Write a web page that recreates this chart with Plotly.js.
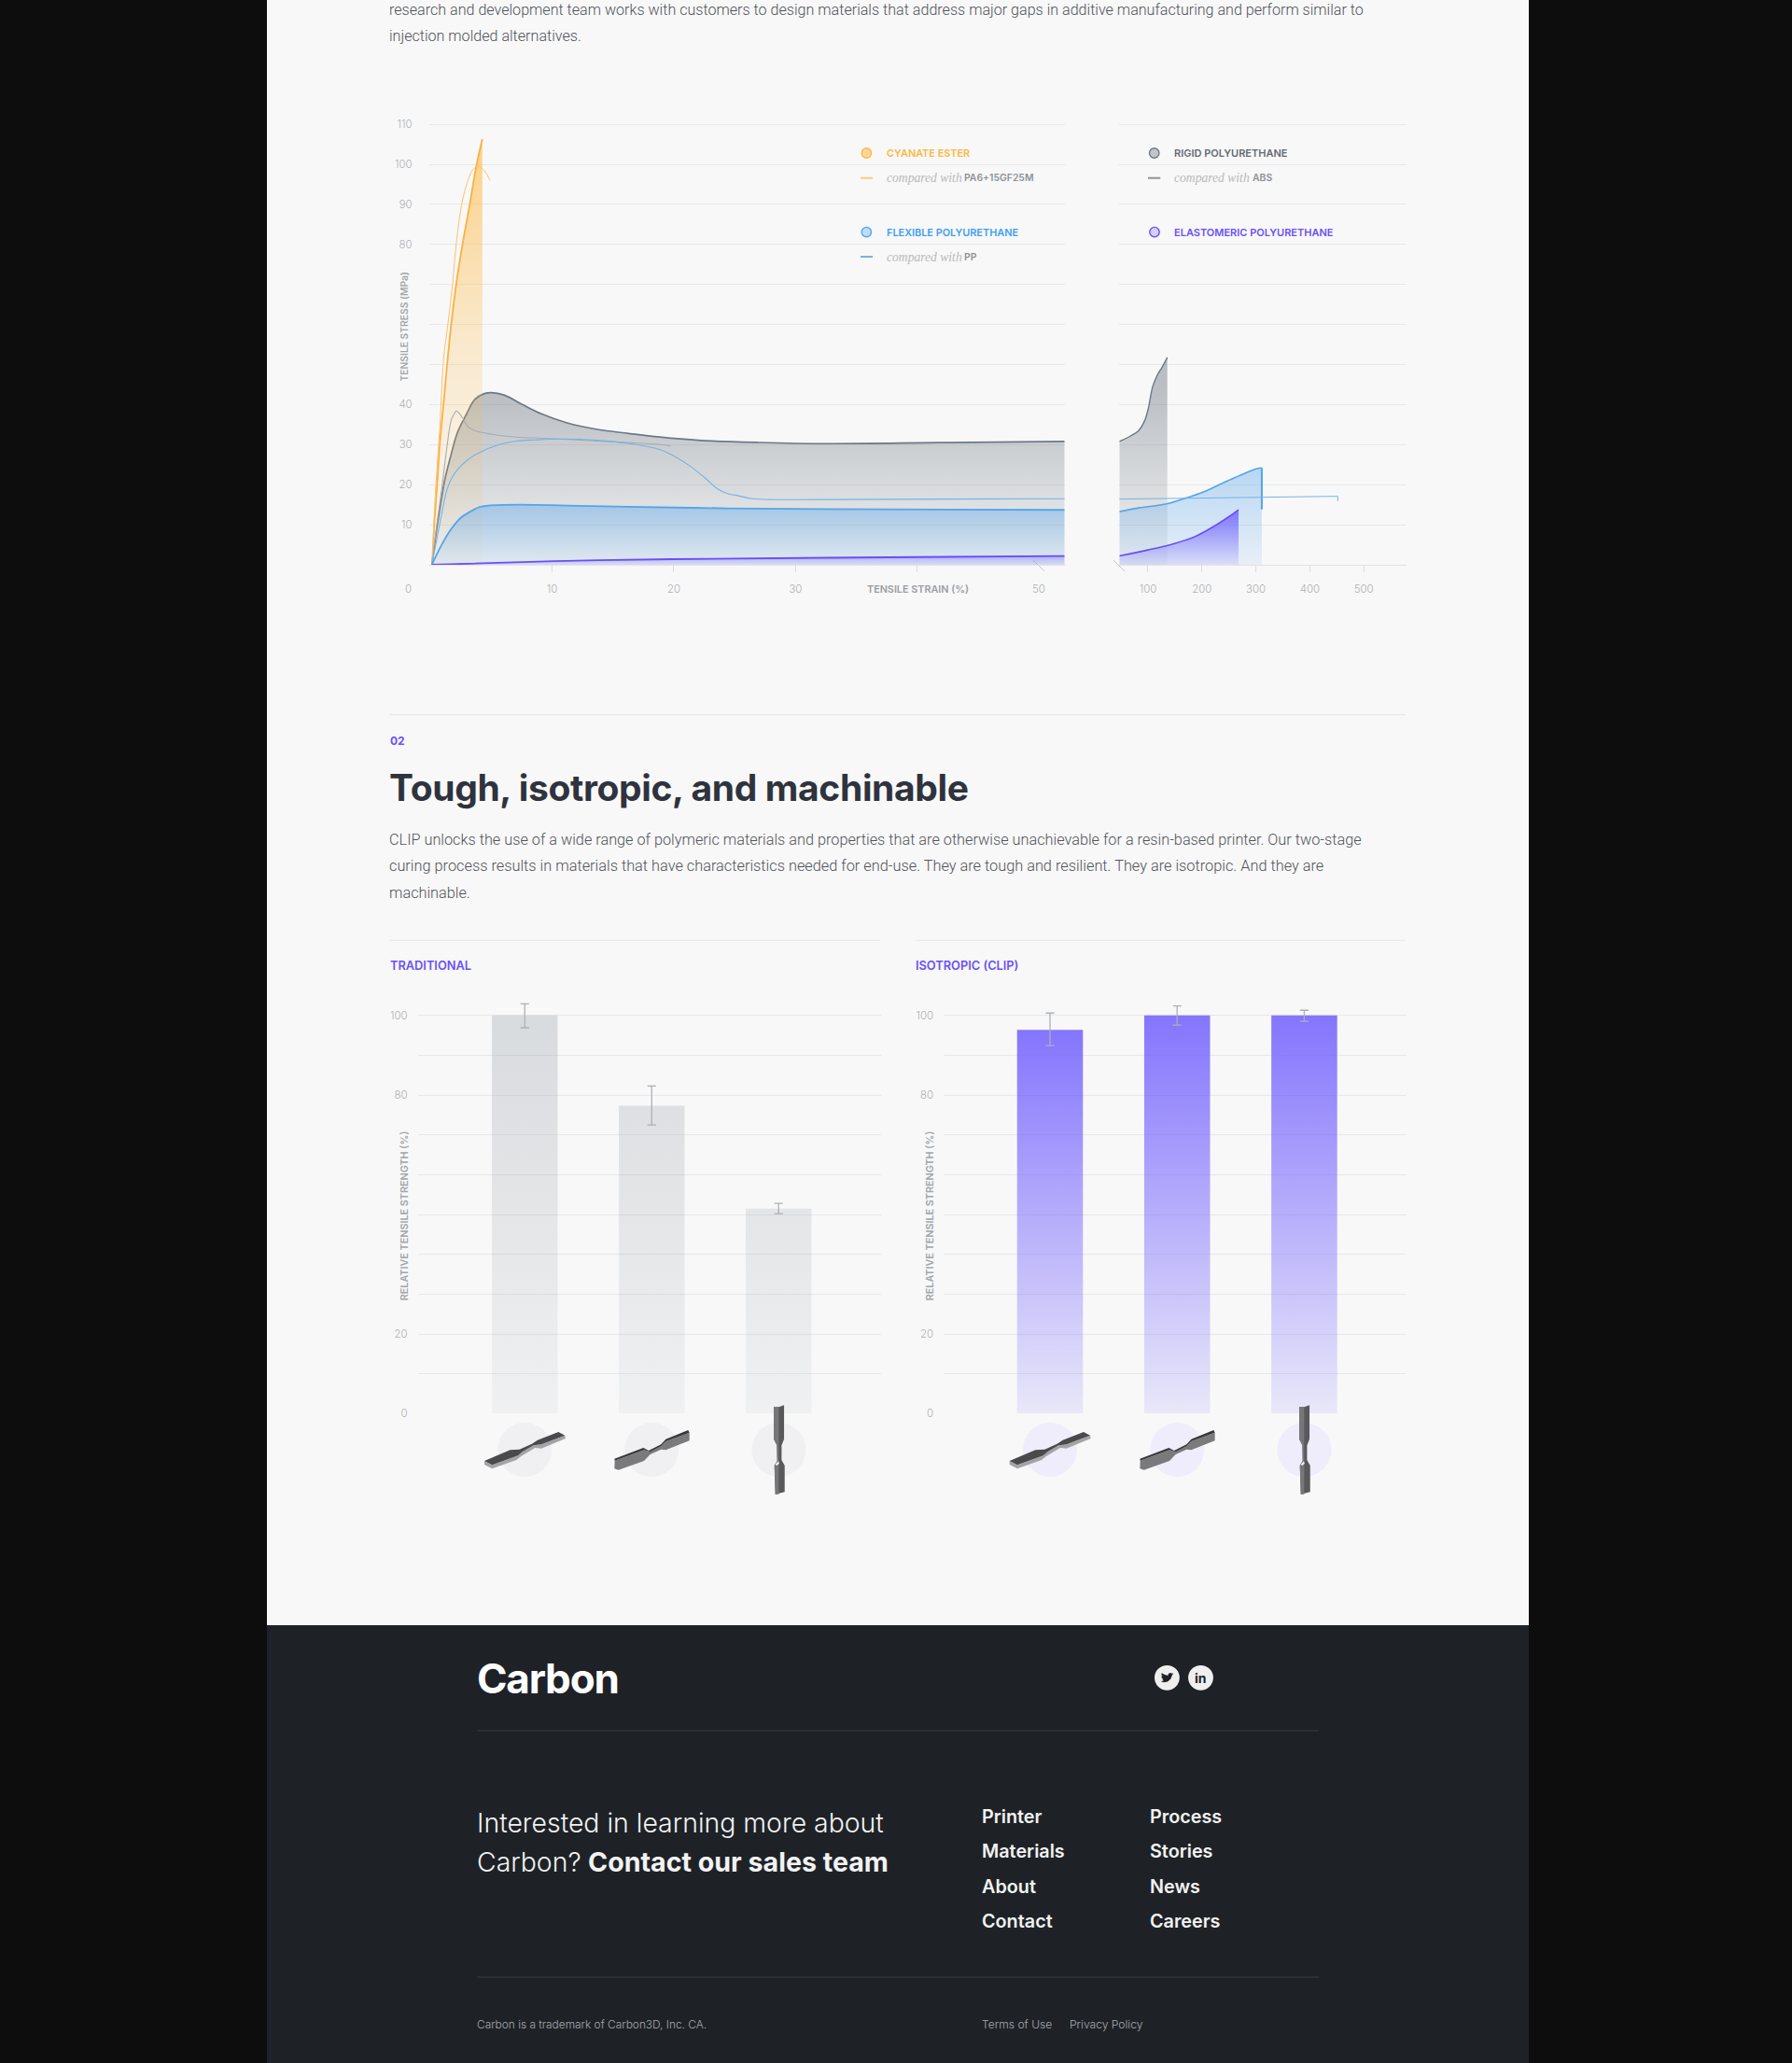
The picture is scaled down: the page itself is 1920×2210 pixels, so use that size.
<!DOCTYPE html>
<html><head><meta charset="utf-8">
<script src="https://cdn.plot.ly/plotly-3.0.0.min.js"></script>
<style>html,body{margin:0;padding:0;background:#0d0d0d;overflow:hidden}#chart{width:1920px;height:2210px}</style>
</head><body><div id="chart"></div>
<script>
// ---------- data ----------
const cyanateX=[0.15,0.33,0.56,0.78,1.08,1.38,1.71,2.12,2.64,3.23,3.79,4.27];
const cyanateY=[0,10.4,20.3,30.3,40.1,50.1,60,70,80,89.9,99.8,106.3];
const pa6X=[0.15,0.41,0.78,1.08,1.45,1.82,2.12,2.57,3.01,3.49,3.94,4.42,4.91];
const pa6Y=[0,17.8,34.5,51.2,60.3,70,80,89.9,95.3,98.7,99.5,98.5,96];
const absX=[0.12,0.55,0.94,1.32,1.71,1.96,2.11,2.34,2.6,3.11,3.75,5.03,7.07,9.37,13.72,17.55,19.34,19.72];
const absY=[0,10.5,19.1,28.4,36.1,37.7,38.4,37.9,36.9,34.4,33.4,32.6,31.9,31.6,30.9,30.3,29.9,29.6];
const rigidX=[0.12,0.68,1.2,1.71,2.22,2.98,3.62,4.39,5.03,6.05,7.58,9.12,11.16,13.72,16.27,18.83,22,27,32.6,41.8,52.1];
const rigidY=[0,12.05,21.4,27.6,33,37.7,41.2,42.7,43,42.4,40,37.7,35.5,33.8,32.8,31.9,31.1,30.55,30.25,30.5,30.8];
const rigidX2=[46.9,65.4,82.7,93.1,100,108.7,117.3,126,135.8];
const rigidY2=[30.8,32,33.5,35.75,38.7,44.5,47.4,49.3,51.8];
const flexX=[0.12,0.94,1.71,2.47,3.24,4,4.77,7.33,11.16,16.27,24.46,32.5,52.1];
const flexY=[0,5.05,8.9,11.66,13.2,14.4,14.8,15,14.8,14.5,14.1,13.9,13.7];
const flexX2=[46.9,82.7,134.6,169.2,203.8,244.1,278.8,301.9,311];
const flexY2=[13.3,14.2,15.2,16.6,18.25,20.75,22.8,24,24.2];
const flexDropX2=[311,311];
const flexDropY2=[24.2,13.8];
const ppX=[0.12,0.55,0.94,1.32,1.71,2.22,2.98,4,5.54,7.07,8.6,10.65,13.72,16.27,18.83,20.1,21.39,22.67,23.56,24.46,25.06,26.5,32.5,52.1];
const ppY=[0,6.6,12.8,18.3,21.4,23.7,26,28,29.9,30.9,31.2,31.4,31.1,30.3,28.8,27,24.5,21.4,19,17.7,17.4,16.5,16.3,16.5];
const ppX2=[46.9,200,451.8,451.8];
const ppY2=[16.4,16.7,17.1,15.9];
const elastoX=[0.12,10.2,19.85,32.5,52.1];
const elastoY=[0,0.9,1.4,1.75,2.2];
const elastoX2=[46.9,100,146.2,186.5,221.1,250,267.8];
const elastoY2=[2.2,3.7,5.2,7,9.5,12,13.75];
const stressTicks=[10,20,30,40,50,60,70,80,90,100,110];
const stressLabels=['10','20','30','40','','','','80','90','100','110'];
const strainTicks=[10,20,30,40];
const strainLabels=['10','20','30',''];
const strainTicks2=[100,200,300,400,500];
const specimens=['Flat','On edge','Upright'];
const traditional=[100,77.3,51.5];
const traditionalPlus=[2.9,5,1.3];
const traditionalMinus=[3.1,4.8,1.3];
const clip=[96.4,100,100];
const clipPlus=[4.2,2.4,1.3];
const clipMinus=[4,2.4,1.5];
const strengthTicks=[0,10,20,30,40,50,60,70,80,90,100];
const strengthLabels=['0','','20','','','','','','80','','100'];

// ---------- page geometry helpers ----------
const W=1920,H=2210;
const fx=x=>x/W, fy=y=>1-y/H;
const FONT='Inter, sans-serif', BODY='Roboto, sans-serif';
const rect=(x0,y0,x1,y1,c,layer)=>({type:'rect',xref:'paper',yref:'paper',x0:fx(x0),x1:fx(x1),y0:fy(y0),y1:fy(y1),fillcolor:c,line:{width:0},layer:layer||'below'});
const rule=(x0,y0,x1,y1,c,w)=>({type:'line',xref:'paper',yref:'paper',x0:fx(x0),x1:fx(x1),y0:fy(y0),y1:fy(y1),line:{color:c,width:w||1},layer:'below'});
const disc=(cx,cy,r,fill,stroke,w,layer)=>({type:'circle',xref:'paper',yref:'paper',x0:fx(cx-r),x1:fx(cx+r),y0:fy(cy+r),y1:fy(cy-r),fillcolor:fill,line:{color:stroke||fill,width:w||0},layer:layer||'below'});
const poly=(pts,c)=>({type:'path',xref:'paper',yref:'paper',path:'M'+pts.map(p=>fx(p[0])+' '+fy(p[1])).join(' L')+' Z',fillcolor:c,line:{width:0},layer:'above'});
const T=(text,x,y,size,color,weight,opt)=>{
  const centred=opt&&opt.extra&&opt.extra.xanchor==='center';
  const body=(opt&&opt.ls)?`<span style="letter-spacing:${opt.ls}px">${text}</span>`:text;
  return Object.assign({xref:'paper',yref:'paper',x:fx(centred?x:x-1),y:fy(y),text:body,showarrow:false,xanchor:'left',yanchor:'middle',borderpad:0,
  font:{family:(opt&&opt.family)||FONT,size,color,weight:weight||400,style:(opt&&opt.style)||'normal'}},opt&&opt.extra);
};

// specimen drawings, in local 3x-crop coordinates around the bar centre
const toPage=(pts,cx,c0)=>pts.map(p=>[cx+(p[0]-c0)/3,1490+p[1]/3]);
const specA=[[57,225],[140,190],[170,188],[210,170],[228,158],[295,132],[316,143],[240,172],[215,175],[180,195],[165,208],[82,238]];
const specA2=[[82,238],[165,208],[180,195],[215,175],[240,172],[316,143],[318,153],[240,185],[220,183],[175,210],[160,222],[82,250],[57,237],[57,225]];
const specB=[[475,218],[568,183],[585,192],[625,172],[640,155],[712,126],[716,134],[640,162],[625,178],[590,196],[570,190],[476,224]];
const specB2=[[476,224],[570,190],[590,196],[625,178],[640,162],[716,134],[716,160],[640,190],[625,188],[590,204],[570,225],[488,254],[475,250]];
const specC1=[[987,52],[1003,52],[1020,46],[1020,155],[1012,175],[1012,222],[1022,240],[1022,325],[992,332],[989,240],[998,225],[997,175],[987,155]];
const specC2=[[987,52],[1003,52],[1003,155],[1003,332],[992,332],[989,240],[998,225],[997,175],[987,155]];
const specC3=[[992,236],[1002,226],[1004,234],[996,240]];
function specimenShapes(cA,cB,cC){
  return [
    poly(toPage(specA2,cA,187),'#a4a4a6'),poly(toPage(specA,cA,187),'#4a4a4c'),
    poly(toPage(specB2,cB,594.6),'#7a7a7c'),poly(toPage(specB,cB,594.6),'#38383a'),
    poly(toPage(specC1,cC,1003),'#59595b'),poly(toPage(specC2,cC,1003),'#77777a'),poly(toPage(specC3,cC,1003),'#f4f4f4')
  ];
}

// ---------- traces ----------
const ORANGE='#fcb040',GRAYL='#6c7985',BLUE='#53a5ea',PURPLE='#6a4dfb';
const grad=(rgb,a0,a1,stop,mid)=>{
  const cs=[[0,`rgba(${rgb},${a0})`]];
  if(mid)cs.push([0.5,`rgba(${rgb},${mid})`]);
  cs.push([1,`rgba(${rgb},${a1})`]);
  return {type:'vertical',start:0,stop:stop,colorscale:cs};
};
const line=(x,y,color,width,axis,extra)=>Object.assign({x,y,mode:'lines',type:'scatter',hoverinfo:'skip',xaxis:axis?'x2':'x',yaxis:axis?'y2':'y',
  line:{color,width,shape:'spline',smoothing:1}},extra||{});
const filled=g=>({fill:'tozeroy',fillgradient:g});
const traces=[
  line(rigidX,rigidY,GRAYL,1.7,0,filled(grad('112,122,132',0.05,0.46,43))),
  line(cyanateX,cyanateY,ORANGE,1.8,0,filled(grad('253,183,62',0.03,0.6,106.3,0.22))),
  line(pa6X,pa6Y,'#fcc06a',1,0),
  line(absX,absY,'#a6abb0',1.1,0),
  line(ppX,ppY,'#74b3e8',1.1,0),
  line(flexX,flexY,BLUE,1.8,0,filled(grad('80,160,235',0.1,0.4,15))),
  line(elastoX,elastoY,PURPLE,1.8,0,filled(grad('100,80,255',0.08,0.35,2.2))),
  line(rigidX2,rigidY2,GRAYL,1.4,1,filled(grad('112,122,132',0.05,0.46,45))),
  line(flexX2,flexY2,BLUE,1.6,1,filled(grad('80,160,235',0.1,0.38,24))),
  line(flexDropX2,flexDropY2,BLUE,2,1,{line:{color:BLUE,width:2}}),
  line(ppX2,ppY2,'#74b3e8',1.1,1,{line:{color:'#74b3e8',width:1}}),
  line(elastoX2,elastoY2,PURPLE,1.6,1,filled(grad('100,80,255',0.1,0.75,13.75))),
];
const bars=(y,plus,minus,xa,ya,fallback)=>({type:'bar',x:specimens,y,width:0.518,xaxis:xa,yaxis:ya,hoverinfo:'skip',
  marker:{color:fallback,line:{width:0}},
  error_y:{type:'data',symmetric:false,array:plus,arrayminus:minus,color:'#aab1b8',thickness:1.3,width:4.6}});
traces.push(bars(traditional,traditionalPlus,traditionalMinus,'x3','y3','#e6e7e9'));
traces.push(bars(clip,clipPlus,clipMinus,'x4','y4','#b4acfb'));

// ---------- axes ----------
const dom=(a,b)=>[a/W,b/W], domY=(top,bottom)=>[1-bottom/H,1-top/H];
const GRID='#e8e8ea',TICK='#aeb0b3';
const tickFont={family:FONT,size:11.4,color:TICK,weight:300};
const base={showline:false,zeroline:false,fixedrange:true,tickfont:tickFont};
const stressRange=[0,115], stressTop=605-115*4.289;
const layout={
  width:W,height:H,margin:{l:0,r:0,t:0,b:0,pad:0},autosize:false,showlegend:false,
  paper_bgcolor:'#0d0d0d',plot_bgcolor:'rgba(0,0,0,0)',bargap:0.48,
  xaxis:Object.assign({},base,{domain:dom(459.6,1140.7),range:[-0.115,52.1],anchor:'y',tickmode:'array',tickvals:strainTicks,ticktext:strainLabels,
    ticks:'outside',ticklen:7,tickwidth:1,tickcolor:'#dcdde0',ticklabelstandoff:8,showgrid:false,showline:true,linecolor:'#e2e2e6',linewidth:1}),
  yaxis:Object.assign({},base,{domain:domY(stressTop,605),range:stressRange,anchor:'x',tickmode:'array',tickvals:stressTicks,ticktext:stressLabels,
    gridcolor:GRID,gridwidth:1,ticks:'',ticklabelstandoff:17}),
  xaxis2:Object.assign({},base,{domain:dom(1199.3,1506.7),range:[46.9,578.7],anchor:'y2',tickmode:'array',tickvals:strainTicks2,
    ticks:'outside',ticklen:7,tickwidth:1,tickcolor:'#dcdde0',ticklabelstandoff:8,showgrid:false,showline:true,linecolor:'#e2e2e6',linewidth:1}),
  yaxis2:Object.assign({},base,{domain:domY(stressTop,605),range:stressRange,anchor:'x2',tickmode:'array',tickvals:stressTicks,showticklabels:false,gridcolor:GRID,gridwidth:1,ticks:''}),
  xaxis3:Object.assign({},base,{domain:dom(447.5,943.6),type:'category',categoryorder:'array',categoryarray:specimens,range:[-0.844,2.804],anchor:'y3',showticklabels:false,ticks:'',showgrid:false}),
  yaxis3:Object.assign({},base,{domain:domY(1514.3-106*4.265,1514.3),range:[0,106],anchor:'x3',tickmode:'array',tickvals:strengthTicks,ticktext:strengthLabels,gridcolor:GRID,ticks:'',ticklabelstandoff:10}),
  xaxis4:Object.assign({},base,{domain:dom(1011,1506.8),type:'category',categoryorder:'array',categoryarray:specimens,range:[-0.837,2.803],anchor:'y4',showticklabels:false,ticks:'',showgrid:false}),
  yaxis4:Object.assign({},base,{domain:domY(1514.3-106*4.265,1514.3),range:[0,106],anchor:'x4',tickmode:'array',tickvals:strengthTicks,ticktext:strengthLabels,gridcolor:GRID,ticks:'',ticklabelstandoff:10}),
};

// ---------- page furniture ----------
const bird=[[22.5,5.5],[20.5,6.1],[22,4],[19.7,5],[17.5,4],[14.8,5],[13.6,7],[13.8,8.5],[8,7],[3.4,4.3],[2.8,7],[4.5,10],[2.8,9.5],[3,11.5],[5.5,14],[3.8,14.2],[6.5,16.5],[2,18],[7,19.5],[13,18.5],[18,14],[20,9],[20,8]]
  .map(p=>[1250.4+(p[0]-12)*0.66,1797.3+(p[1]-12)*0.66]);
const barC=[562.3,698.2,834.4], clipC=[1125,1261.2,1397.4];
layout.shapes=[
  rect(286,0,1638,1741,'#f8f8f8'),
  rect(286,1741,1638,2210,'#1e2227'),
  rule(417,765.7,1506,765.7,'#e6e6e8'),
  rule(417,1007.3,943,1007.3,'#e6e6e8'),
  rule(981,1007.3,1506,1007.3,'#e6e6e8'),
  rule(511,1854,1413,1854,'#3a3d42'),
  rule(511,2118,1413,2118,'#3a3d42'),
  rule(1107,600,1119,612,'#c4c6c8'),
  rule(1193,600,1205,612,'#c4c6c8'),
  // legend keys
  disc(928.4,164,5.2,'#fdd79a','#fdb73e',1.4),
  rule(922,190.7,935,190.7,'#fdcb7e',2),
  disc(928.4,248.6,5.2,'#bcdcf8','#4ea6f2',1.4),
  rule(922,275,935,275,'#74b3e8',2),
  disc(1236.7,164,5.2,'#c2c6c9','#6c7985',1.4),
  rule(1230,190.7,1243.3,190.7,'#8c9299',2),
  disc(1237,248.6,5.2,'#d6d0fd','#6a4dfb',1.4),
  // specimen discs
  ...barC.map(c=>disc(c,1553,29,'#f0f0f2')),
  ...clipC.map(c=>disc(c,1553,29,'#efedfb')),
  ...specimenShapes(barC[0],barC[1],barC[2]),
  ...specimenShapes(clipC[0],clipC[1],clipC[2]),
  // social
  disc(1250.4,1797.3,13.4,'#efefef',null,0,'above'),
  disc(1286.5,1797.3,13.4,'#efefef',null,0,'above'),
  poly(bird,'#1e2227'),
];
const GRAYT='#a2a6aa',BODYC='#4f5359',PUR='#6a50fb',WH='#f2f2f2';
const para=(t,y,size)=>T(t,417,y-0.4,size||16.1,BODYC,300,{family:BODY});
const serif={family:'"Liberation Serif", serif',style:'italic'};
layout.annotations=[
  para('research and development team works with customers to design materials that address major gaps in additive manufacturing and perform similar to',11),
  para('injection molded alternatives.',39),
  T('0',437,631,11.4,TICK,300,{extra:{xanchor:'center'}}),
  T('TENSILE STRAIN (%)',983,631,10.8,'#9a9ea2',600,{extra:{xanchor:'center'}}),
  T('50',1113,631,11.4,TICK,300,{extra:{xanchor:'center'}}),
  T('TENSILE STRESS (MPa)',432.5,350,10.3,GRAYT,600,{extra:{xanchor:'center',textangle:-90}}),
  T('CYANATE ESTER',949.7,164,10.9,'#fdb73e',600),
  T('compared with',949.7,190.5,13.6,'#b8b8b8',400,serif),
  T('PA6+15GF25M',1033,190.5,10.4,'#8e9296',600),
  T('FLEXIBLE POLYURETHANE',949.7,248.6,10.9,'#3f9ff2',600),
  T('compared with',949.7,275,13.6,'#b8b8b8',400,serif),
  T('PP',1033,275,10.4,'#8e9296',600),
  T('RIGID POLYURETHANE',1258,164,11,'#646b72',600),
  T('compared with',1258,190.5,13.6,'#b8b8b8',400,serif),
  T('ABS',1341.7,190.5,10.4,'#8e9296',600),
  T('ELASTOMERIC POLYURETHANE',1258.3,248.6,11,PUR,600),
  T('02',418,793,12,PUR,700),
  T('Tough, isotropic, and machinable',417,843,39,'#2e333d',700,{ls:-0.35}),
  para('CLIP unlocks the use of a wide range of polymeric materials and properties that are otherwise unachievable for a resin-based printer. Our two-stage',900.3,16.28),
  para('curing process results in materials that have characteristics needed for end-use. They are tough and resilient. They are isotropic. And they are',928.3,16.32),
  para('machinable.',956.7,16.28),
  T('TRADITIONAL',418,1034,12.8,PUR,600),
  T('ISOTROPIC (CLIP)',981,1034,12.8,PUR,600),
  T('RELATIVE TENSILE STRENGTH (%)',433,1302.3,10.8,GRAYT,600,{extra:{xanchor:'center',textangle:-90}}),
  T('RELATIVE TENSILE STRENGTH (%)',996,1302.3,10.8,GRAYT,600,{extra:{xanchor:'center',textangle:-90}}),
  T('Carbon',511,1798,44,'#ffffff',700,{ls:-1.2}),
  T('in',1286.5,1797.5,14,'#1e2227',700,{extra:{xanchor:'center'}}),
  T('Interested in learning more about',511,1952,28.4,WH,300),
  T('Carbon?',511,1994,28.4,WH,300),
  T('Contact our sales team',630,1994,28.6,WH,700),
  ...[['Printer',1945.5],['Materials',1983.3],['About',2020.7],['Contact',2058.3]].map(a=>T(a[0],1051.8,a[1],19.8,WH,600)),
  ...[['Process',1945.5],['Stories',1983.3],['News',2020.7],['Careers',2058.3]].map(a=>T(a[0],1232.2,a[1],19.8,WH,600)),
  T('Carbon is a trademark of Carbon3D, Inc. CA.',511,2168,11.9,'#a8abae',300),
  T('Terms of Use',1051.8,2168,12.1,'#a8abae',300),
  T('Privacy Policy',1146,2168,12.1,'#a8abae',300),
];

Plotly.newPlot('chart',traces,layout,{staticPlot:true,displayModeBar:false,responsive:false}).then(gd=>{
  // vertical gradients on the bars
  const svg=gd.querySelector('.main-svg');
  const NS='http://www.w3.org/2000/svg';
  const defs=document.createElementNS(NS,'defs');svg.insertBefore(defs,svg.firstChild);
  const mk=(id,rgb,a0,a1)=>{
    const g=document.createElementNS(NS,'linearGradient');g.setAttribute('id',id);
    g.setAttribute('x1','0');g.setAttribute('y1','0');g.setAttribute('x2','0');g.setAttribute('y2','1');
    [[0,a0],[1,a1]].forEach(s=>{const st=document.createElementNS(NS,'stop');st.setAttribute('offset',s[0]);st.setAttribute('stop-color','rgb('+rgb+')');st.setAttribute('stop-opacity',s[1]);g.appendChild(st);});
    defs.appendChild(g);return 'url(#'+id+')';
  };
  const paint=(sub,vals,rgb,fn)=>{
    gd.querySelectorAll('.subplot.'+sub+' .barlayer .point path').forEach((p,i)=>{
      const f=fn(vals[i]);
      p.style.fill=mk(sub+'b'+i,rgb,f[0],f[1]);p.style.fillOpacity=1;
    });
  };
  paint('x3y3',traditional,'130,140,152',v=>[0.07+0.2*v/100,0.07]);
  paint('x4y4',clip,'100,80,255',v=>[0.78,0.1]);
});
</script></body></html>
